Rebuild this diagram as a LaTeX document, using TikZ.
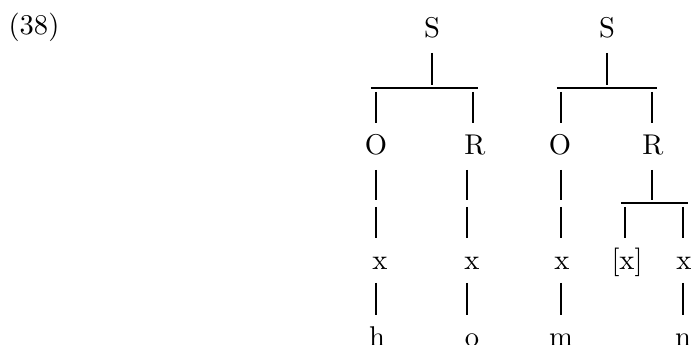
\documentclass[tikz,border=0pt]{standalone}
\begin{document}
\begin{tikzpicture}[x=0.35pt,y=-0.35pt,
  lbl/.style={inner sep=0pt,anchor=base},
  vbar/.style={line width=0.4pt},
  hbar/.style={line width=0.75pt}]
\useasboundingbox (0,0) rectangle (695,345);
% example number
\node[inner sep=0pt,anchor=base west] (num) at (8,35) {(38)};
% ---------- tree 1 ----------
\node[lbl] (S1) at (432,38) {S};
\node[lbl] (O1) at (376,155) {O};
\node[lbl] (R1) at (475,155) {R};
\node[lbl] (xa) at (380,270) {x};
\node[lbl] (xb) at (472,270) {x};
\node[lbl] (h)  at (377,347) {h};
\node[lbl] (o)  at (472,347) {o};
\draw[vbar] (432,53) -- (432,85);
\draw[hbar] (371,88) -- (478,88);
\draw[vbar] (376,92) -- (376,123);
\draw[vbar] (473,92) -- (473,123);
\draw[vbar] (376,170) -- (376,200);
\draw[vbar] (376,207) -- (376,238);
\draw[vbar] (467,170) -- (467,200);
\draw[vbar] (467,207) -- (467,238);
\draw[vbar] (376,283) -- (376,315);
\draw[vbar] (467,283) -- (467,315);
% ---------- tree 2 ----------
\node[lbl] (S2) at (607,38) {S};
\node[lbl] (O2) at (560,155) {O};
\node[lbl] (R2) at (653,155) {R};
\node[lbl] (xc) at (562,270) {x};
\node[lbl] (xd) at (627,270) {[x]};
\node[lbl] (xe) at (684,270) {x};
\node[lbl] (m)  at (561,347) {m};
\node[lbl] (n)  at (683,347) {n};
\draw[vbar] (607,53) -- (607,85);
\draw[hbar] (557,88) -- (657,88);
\draw[vbar] (561,92) -- (561,123);
\draw[vbar] (652,92) -- (652,123);
\draw[vbar] (561,170) -- (561,200);
\draw[vbar] (561,207) -- (561,238);
\draw[vbar] (652,170) -- (652,200);
\draw[hbar] (621,203) -- (688,203);
\draw[vbar] (625,207) -- (625,238);
\draw[vbar] (683,207) -- (683,238);
\draw[vbar] (561,283) -- (561,315);
\draw[vbar] (683,283) -- (683,315);
\end{tikzpicture}
\end{document}
